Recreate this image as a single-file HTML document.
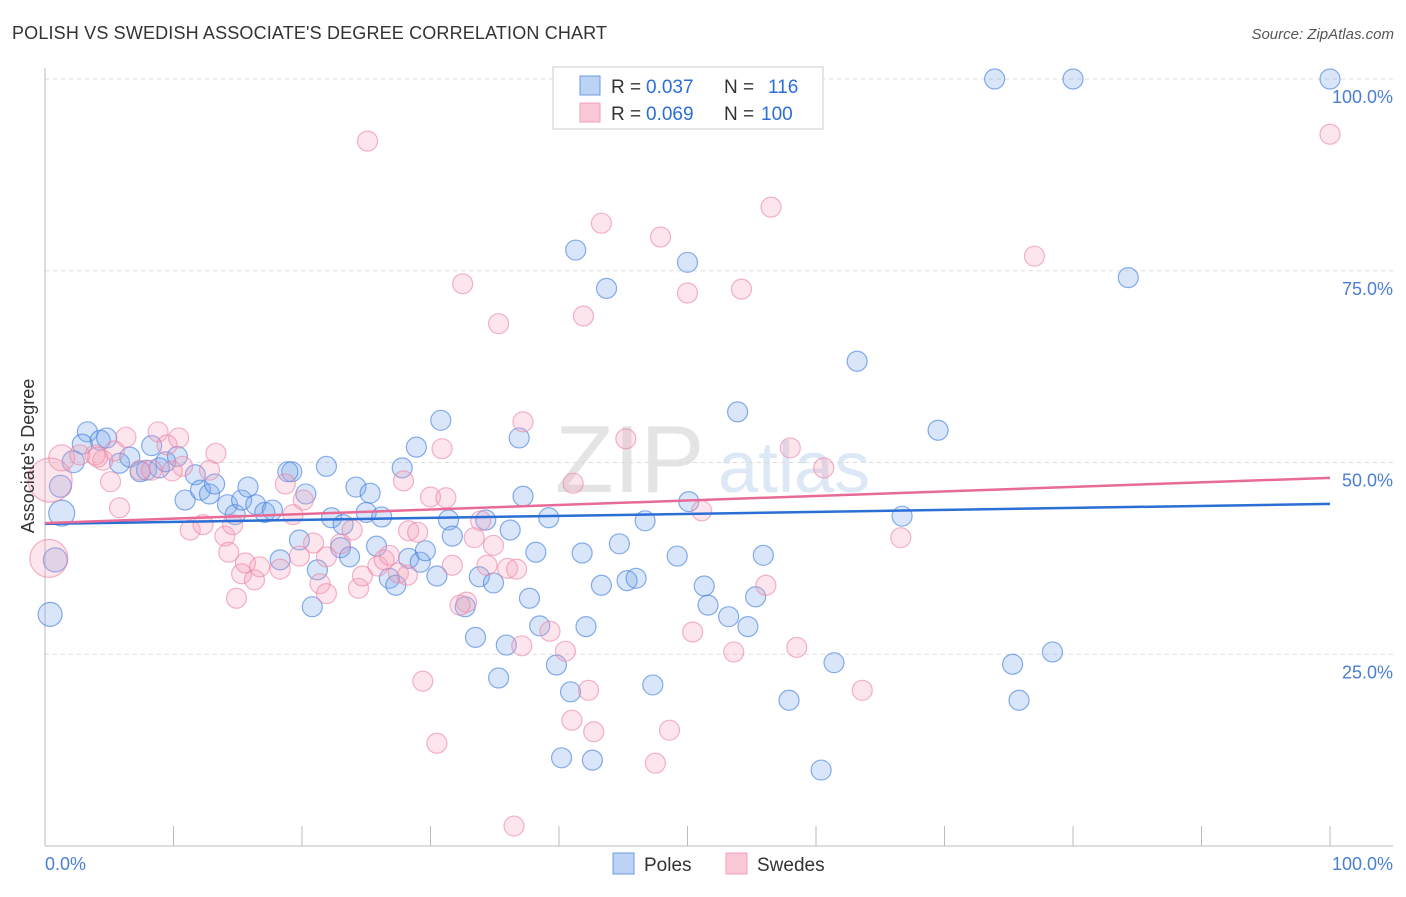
<!DOCTYPE html>
<html><head><meta charset="utf-8"><style>
body{margin:0;background:#fff;font-family:"Liberation Sans",sans-serif}
svg text{font-family:"Liberation Sans",sans-serif}
</style></head><body>
<svg id="chart" width="1406" height="892" xmlns="http://www.w3.org/2000/svg">
<text x="12" y="39" font-size="18" fill="#333" textLength="595">POLISH VS SWEDISH ASSOCIATE'S DEGREE CORRELATION CHART</text>
<text x="1394" y="39" font-size="15" fill="#555" font-style="italic" text-anchor="end">Source: ZipAtlas.com</text>
<g><text x="555" y="492" font-size="96" fill="#e4e4e4" font-family="Liberation Serif,serif">ZIP</text><text x="718" y="492" font-size="72" fill="#dce8f6">atlas</text></g>
<g id="grid"></g>
<g id="axes"></g>
<g id="pts"></g>
<g id="trend"></g>
<text x="34" y="456" font-size="18" fill="#333" text-anchor="middle" transform="rotate(-90 34 456)">Associate's Degree</text>
<text x="45" y="870" font-size="18" fill="#4a7fd4">0.0%</text>
<text x="1393" y="870" font-size="18" fill="#4a7fd4" text-anchor="end">100.0%</text>
<g>
<rect x="553" y="67" width="270" height="62" fill="#fff" stroke="#ccc"/>
<rect x="580" y="76" width="20" height="19" fill="#bcd3f5" stroke="#6d9be0"/>
<rect x="580" y="103" width="20" height="19" fill="#fbc8d7" stroke="#f0a0b8"/>
<text x="611" y="93" font-size="19" fill="#333">R =</text><text x="646" y="93" font-size="19" fill="#2a6ed6">0.037</text>
<text x="724" y="93" font-size="19" fill="#333">N =</text><text x="768" y="93" font-size="19" fill="#2a6ed6">116</text>
<text x="611" y="120" font-size="19" fill="#333">R =</text><text x="646" y="120" font-size="19" fill="#2a6ed6">0.069</text>
<text x="724" y="120" font-size="19" fill="#333">N =</text><text x="761" y="120" font-size="19" fill="#2a6ed6">100</text>
</g>
<g><rect x="613" y="853" width="21" height="21" fill="#bcd3f5" stroke="#6d9be0"/><text x="644" y="871" font-size="19" fill="#333">Poles</text></g>
<g><rect x="726" y="853" width="21" height="21" fill="#fbc8d7" stroke="#f0a0b8"/><text x="757" y="871" font-size="19" fill="#333">Swedes</text></g>
</svg>
<script>
const yTicks=[25,50,75,100];
const xTicks=[0,10,20,30,40,50,60,70,80,90,100];
const polesX=[73.9,80.0,100,84.3,41.3,50.0,43.7,63.2,53.9,69.5,30.8,36.9,28.9,19.2,21.9,27.8,1.2,1.3,0.4,0.8,3.3,2.9,4.3,4.8,2.2,5.8,6.6,7.4,7.9,8.3,8.9,9.4,10.3,11.7,10.9,12.1,12.8,13.2,14.2,14.8,15.3,15.8,16.4,17.1,17.7,18.3,18.9,19.8,20.3,20.8,21.2,22.3,23.0,23.2,23.7,24.2,25.0,25.3,25.8,26.2,26.8,27.3,28.3,29.2,29.6,30.5,31.4,31.7,32.7,33.5,33.8,34.3,34.9,35.3,35.9,36.2,37.2,37.7,38.2,38.5,39.2,39.8,40.2,40.9,41.8,42.1,42.6,43.3,44.7,45.3,46.0,46.7,47.3,49.2,50.1,51.3,51.6,53.2,54.7,55.3,55.9,57.9,60.4,61.4,66.7,75.3,75.8,78.4];
const polesY=[100,100,100,74.1,77.7,76.1,72.7,63.2,56.6,54.2,55.5,53.2,52.0,48.8,49.5,49.3,46.9,43.4,30.2,37.3,54.0,52.4,52.9,53.2,50.1,49.9,50.7,48.8,49.0,52.2,49.3,50.1,50.8,48.4,45.1,46.4,45.9,47.2,44.5,43.2,45.1,46.8,44.5,43.5,43.8,37.3,48.8,39.9,45.9,31.2,36.0,42.8,38.9,41.9,37.7,46.8,43.5,46.0,39.1,42.9,34.9,34.0,37.5,37.0,38.5,35.2,42.5,40.4,31.2,27.2,35.1,42.5,34.3,21.9,26.2,41.2,45.6,32.3,38.3,28.7,42.8,23.6,11.5,20.1,38.2,28.6,11.2,34.0,39.4,34.6,34.9,42.4,21.0,37.8,44.9,33.9,31.4,29.9,28.6,32.5,37.9,19.0,9.9,23.9,43.0,23.7,19.0,25.3];
const polesWeight=[1,1,1,1,1,1,1,1,1,1,1,1,1,1,1,1,1.1,1.3,1.2,1.2,1,1,1,1,1.1];
const swedesX=[25.1,43.3,47.9,56.5,77.0,100,32.5,35.3,41.9,50.0,54.2,37.2,30.9,45.2,58.0,60.6,66.6,51.1,41.1,27.9,30.0,31.2,33.9,33.4,31.7,36.0,36.7,37.1,39.3,40.5,41.0,42.3,42.7,36.5,29.4,30.5,47.5,48.6,50.4,53.6,56.1,58.5,63.6,0.3,0.4,1.3,2.7,3.9,4.5,6.3,5.1,5.8,7.4,8.3,8.8,9.5,10.4,10.7,9.9,12.8,13.3,11.3,12.3,14.0,14.3,14.9,15.3,15.6,16.3,16.7,18.3,18.7,19.3,20.1,19.8,20.9,21.4,21.9,21.9,23.0,23.9,24.4,24.7,25.9,26.4,26.8,27.5,28.2,28.3,29.0,32.8,34.4,34.9,32.3,5.4,4.1,14.6];
const swedesY=[91.9,81.2,79.4,83.3,76.9,92.8,73.3,68.1,69.1,72.1,72.6,55.3,51.8,53.1,51.9,49.3,40.2,43.7,47.3,47.6,45.5,45.4,42.4,40.2,36.6,36.2,36.1,26.1,28.0,25.4,16.4,20.3,14.9,2.6,21.5,13.4,10.8,15.1,27.9,25.3,34.0,25.9,20.3,37.5,47.7,50.6,51.0,51.0,50.3,53.3,47.5,44.1,49.0,49.0,54.0,52.3,53.2,49.5,48.9,49.0,51.2,41.2,41.9,40.4,38.3,32.3,35.5,36.9,34.7,36.4,36.1,47.2,43.2,45.1,37.8,39.5,34.2,32.9,37.7,39.4,41.2,33.6,35.2,36.5,37.3,37.9,35.6,35.3,41.1,40.9,31.8,36.6,39.2,31.4,51.5,50.7,41.9];
const swedesWeight={43:1.9,44:2.2,45:1.3};
const polesTrend=[42.0,44.6];
const swedesTrend=[42.1,48.0];
const NS="http://www.w3.org/2000/svg";
const X0=45,X1=1330,Y0=846,Y1=79;
const sx=v=>X0+(X1-X0)*v/100;
const sy=v=>Y0-(Y0-Y1)*v/100;
function mk(tag,attrs,parent){const e=document.createElementNS(NS,tag);for(const k in attrs)e.setAttribute(k,attrs[k]);parent.appendChild(e);return e;}
const grid=document.getElementById('grid'),axes=document.getElementById('axes'),pts=document.getElementById('pts'),trend=document.getElementById('trend');
yTicks.forEach(t=>{
 const l=mk('line',{x1:X0,x2:1393,y1:sy(t),y2:sy(t),stroke:'#dcdcdc','stroke-dasharray':'4,4'},grid);
 
 
 const tx=mk('text',{x:1393,y:sy(t)+24,'font-size':18,fill:'#4a7fd4','text-anchor':'end'},grid);
 tx.textContent=t.toFixed(1)+'%';
 
 
});
const ax=mk('line',{x1:X0,x2:X0,y1:68,y2:Y0,stroke:'#bbb'},axes);


const bx=mk('line',{x1:X0,x2:1393,y1:Y0,y2:Y0,stroke:'#bbb'},axes);


xTicks.forEach(t=>{
 const l=mk('line',{x1:sx(t),x2:sx(t),y1:826,y2:Y0,stroke:'#bbb'},axes);
 
 
});
function series(xs,ys,w,fill,stroke,name){
 xs.forEach((x,i)=>{
  const r=10*(w[i]||1);
  const c=mk('circle',{cx:sx(x),cy:sy(ys[i]),r:r,fill:fill,stroke:stroke,'stroke-width':1.2},pts);
  
  
 });
}
series(polesX,polesY,polesWeight,'rgba(120,165,235,0.28)','rgba(70,130,225,0.65)','pole-point');
series(swedesX,swedesY,swedesWeight,'rgba(245,160,185,0.28)','rgba(235,130,165,0.6)','swede-point');
const t1=mk('line',{x1:sx(0),x2:sx(100),y1:sy(polesTrend[0]),y2:sy(polesTrend[1]),stroke:'#2a6ed6','stroke-width':2.5},trend);


const t2=mk('line',{x1:sx(0),x2:sx(100),y1:sy(swedesTrend[0]),y2:sy(swedesTrend[1]),stroke:'#e86a96','stroke-width':2.5},trend);


</script>
</body></html>
